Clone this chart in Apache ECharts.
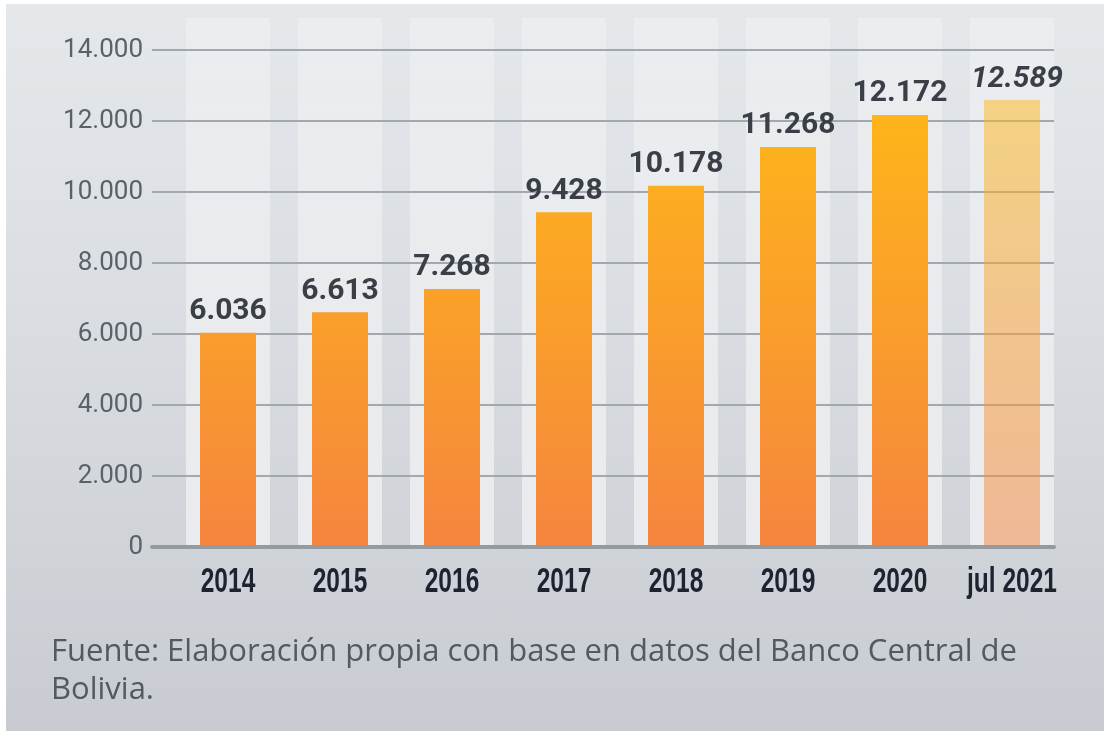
<!DOCTYPE html>
<html>
<head>
<meta charset="utf-8">
<script src="https://cdn.jsdelivr.net/npm/echarts@6/dist/echarts.min.js"></script>
<style>
  html, body { margin: 0; padding: 0; background: #ffffff; }
  #bg { position: absolute; left: 6px; top: 4px; width: 1098px; height: 727px;
        background: linear-gradient(to bottom, #e5e8eb 0%, #d9dde1 45%, #c8ccd2 100%); }
  #chart { position: absolute; left: 0; top: 0; width: 1104px; height: 731px; }
</style>
</head>
<body>
<div id="bg"></div>
<div id="chart"></div>
<script>
const categories = ['2014', '2015', '2016', '2017', '2018', '2019', '2020', 'jul 2021'];
const values = [6036, 6613, 7268, 9428, 10178, 11268, 12172, 12589];
const provisional = [false, false, false, false, false, false, false, true];
const yMin = 0, yMax = 14000, yStep = 2000;
const sourceNote = 'Fuente: Elaboración propia con base en datos del Banco Central de\nBolivia.';

function fmt(v) {
  return String(v).replace(/\B(?=(\d{3})+(?!\d))/g, '.');
}

const chart = echarts.init(document.getElementById('chart'), null, { renderer: 'canvas' });

function grad(alpha) {
  return {
    type: 'linear', x: 0, y: 50, x2: 0, y2: 547, global: true,
    colorStops: [
      { offset: 0, color: 'rgba(255,188,20,' + alpha + ')' },
      { offset: 1, color: 'rgba(245,133,63,' + alpha + ')' }
    ]
  };
}

const barData = values.map((v, i) => ({
  value: v,
  itemStyle: { color: grad(provisional[i] ? 0.5 : 1) },
  label: provisional[i] ? { fontStyle: 'italic', offset: [5, 0] } : {}
}));

const catLabelData = categories.map((c, i) => [i, 0]);

chart.setOption({
  backgroundColor: 'transparent',
  animation: false,
  title: {
    text: sourceNote,
    left: 46, top: 628,
    textStyle: { fontFamily: 'Open Sans', fontSize: 31, fontWeight: 'normal', color: '#535960', lineHeight: 38 }
  },
  grid: [
    { left: 172, right: 36, top: 50, bottom: 184 },   // bars
    { left: 152, right: 50, top: 50, bottom: 184 },   // gridlines / y labels
    { left: 172, right: 36, top: 18, bottom: 184 }    // light columns
  ],
  xAxis: [
    {
      type: 'category', gridIndex: 0, data: categories,
      axisLine: { show: false }, axisTick: { show: false },
      axisLabel: { show: false }
    },
    {
      type: 'value', gridIndex: 1, min: 0, max: 1, z: 4,
      axisLine: { show: true, lineStyle: { color: '#959aa1', width: 4 } },
      axisTick: { show: false }, axisLabel: { show: false }, splitLine: { show: false }
    },
    {
      type: 'category', gridIndex: 2, data: categories, show: false
    }
  ],
  yAxis: [
    { type: 'value', gridIndex: 0, min: yMin, max: yMax, interval: yStep, show: false },
    {
      type: 'value', gridIndex: 1, min: yMin, max: yMax, interval: yStep, z: 2,
      axisLine: { show: false }, axisTick: { show: false },
      axisLabel: { margin: 9, fontFamily: 'Roboto', fontSize: 26, color: '#5b6169', formatter: v => fmt(v) },
      splitLine: { show: true, lineStyle: { color: '#a3a8ae', width: 2 } }
    },
    { type: 'value', gridIndex: 2, min: yMin, max: yMax, show: false }
  ],
  series: [
    {
      type: 'bar', xAxisIndex: 2, yAxisIndex: 2, z: 1,
      data: values, barWidth: 84, silent: true,
      itemStyle: { color: 'rgba(0,0,0,0)' },
      showBackground: true,
      backgroundStyle: {
        color: {
          type: 'linear', x: 0, y: 0, x2: 0, y2: 1,
          colorStops: [{ offset: 0, color: 'rgba(255,255,255,0.25)' }, { offset: 1, color: 'rgba(255,255,255,0.55)' }]
        }
      }
    },
    {
      type: 'bar', xAxisIndex: 0, yAxisIndex: 0, z: 3,
      data: barData, barWidth: 56,
      label: {
        show: true, position: 'top', distance: 6,
        fontFamily: 'Roboto', fontWeight: 'bold', fontSize: 30, color: '#3a3f47',
        formatter: p => fmt(p.value)
      }
    },
    {
      // category labels (condensed bold), placed through the category axis
      type: 'custom', xAxisIndex: 0, yAxisIndex: 0, z: 5, clip: false, silent: true,
      data: catLabelData,
      renderItem: function (params, api) {
        const pt = api.coord([api.value(0), 0]);
        return {
          type: 'text',
          x: pt[0], y: pt[1] + 35,
          scaleX: 0.7,
          style: {
            text: categories[api.value(0)],
            x: 0, y: 0, align: 'center', verticalAlign: 'middle',
            font: 'bold 35px "Liberation Sans", Arial, sans-serif',
            fill: '#1d2430'
          }
        };
      }
    }
  ]
});
</script>
</body>
</html>
